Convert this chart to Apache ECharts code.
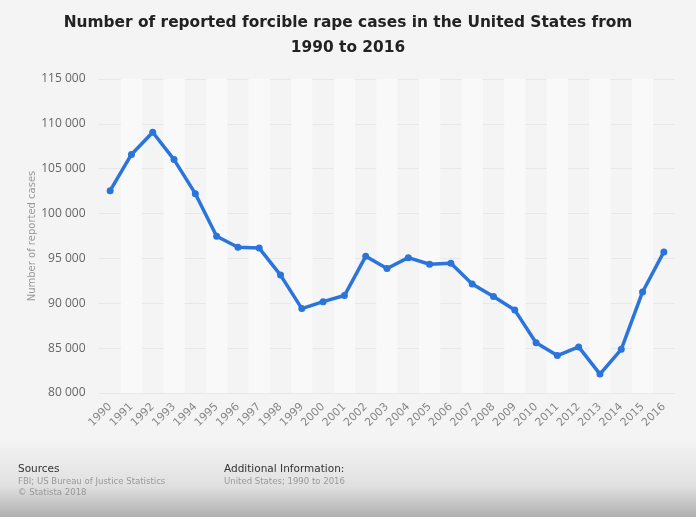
<!DOCTYPE html>
<html>
<head>
<meta charset="utf-8">
<script src="https://cdn.jsdelivr.net/npm/echarts@6/dist/echarts.min.js"></script>
<style>
  html, body { margin: 0; padding: 0; background: #f4f4f4; }
  #chart { width: 696px; height: 517px; }
</style>
</head>
<body>
<div id="chart"></div>
<script>
const years = ['1990','1991','1992','1993','1994','1995','1996','1997','1998','1999','2000','2001','2002',
               '2003','2004','2005','2006','2007','2008','2009','2010','2011','2012','2013','2014','2015','2016'];
const cases = [102555, 106593, 109062, 106014, 102216, 97470, 96252, 96153, 93144, 89411, 90178, 90863, 95235,
               93883, 95089, 94347, 94472, 92160, 90750, 89241, 85593, 84175, 85141, 82109, 84864, 91261, 95730];
const yMin = 80000, yMax = 115000, yStep = 5000;

(function(){
    let myChart = echarts.init(document.getElementById('chart'));
    let font = 'DejaVu Sans';
    let small = '"DejaVu Sans Condensed", "DejaVu Sans"';
    let options = {
        backgroundColor: '#f4f4f4',
        title: {
            text: 'Number of reported forcible rape cases in the United States from\n1990 to 2016',
            left: 'center',
            top: 5,
            textStyle: {
                fontFamily: font,
                fontSize: 15.4,
                fontWeight: 'bold',
                color: '#222',
                lineHeight: 25
            }
        },
        graphic: [
            {
                type: 'rect',
                left: 0, top: 440,
                shape: { width: 696, height: 77 },
                silent: true,
                z: -10,
                style: {
                    fill: new echarts.graphic.LinearGradient(0, 0, 0, 1, [
                        { offset: 0, color: '#f4f4f4' },
                        { offset: 0.6, color: '#e0e0e0' },
                        { offset: 1, color: '#b0b0b0' }
                    ])
                }
            },
            // y axis title
            {
                type: 'text',
                x: 32, y: 236,
                rotation: Math.PI / 2,
                style: {
                    text: 'Number of reported cases',
                    font: '10px DejaVu Sans',
                    fill: '#999',
                    align: 'center',
                    verticalAlign: 'middle'
                }
            },
            {
                type: 'group', left: 18, top: 464,
                children: [
                    { type: 'text', left: 0, top: 0, style: { text: 'Sources', font: '10.5px DejaVu Sans', fill: '#333' } },
                    { type: 'text', left: 0, top: 13, style: { text: 'FBI; US Bureau of Justice Statistics', font: '9.5px ' + small, fill: '#999' } },
                    { type: 'text', left: 0, top: 24, style: { text: '© Statista 2018', font: '9.5px ' + small, fill: '#999' } }
                ]
            },
            {
                type: 'group', left: 224, top: 464,
                children: [
                    { type: 'text', left: 0, top: 0, style: { text: 'Additional Information:', font: '10.5px DejaVu Sans', fill: '#333' } },
                    { type: 'text', left: 0, top: 13, style: { text: 'United States; 1990 to 2016', font: '9.5px ' + small, fill: '#999' } }
                ]
            }
        ],
        grid: {
            left: 99.5,
            right: 21.5,
            top: 79,
            bottom: 124
        },
        tooltip: { show: true, trigger: 'axis' },
        xAxis: {
            type: 'category',
            data: years,
            boundaryGap: true,
            axisLine: { show: false },
            axisTick: { show: false },
            axisLabel: {
                rotate: 45,
                fontFamily: font,
                fontSize: 11,
                color: '#888',
                margin: 12,
                interval: 0
            },
            splitArea: {
                show: true,
                interval: 0,
                areaStyle: { color: ['rgba(255,255,255,0)', '#f9f9f9'] }
            }
        },
        yAxis: {
            type: 'value',
            min: yMin,
            max: yMax,
            interval: yStep,
            axisLine: { show: false },
            axisTick: { show: false },
            axisLabel: {
                fontFamily: 'Open Sans',
                fontSize: 12,
                color: '#666',
                margin: 14,
                formatter: function (v) {
                    return String(v).replace(/\B(?=(\d{3})+(?!\d))/g, ' ');
                }
            },
            splitLine: {
                lineStyle: { color: '#dcdcdc', type: 'dotted', width: 1 }
            }
        },
        series: [{
            name: 'Number of reported cases',
            type: 'line',
            data: cases,
            symbol: 'circle',
            symbolSize: 7,
            lineStyle: { color: '#2a74db', width: 3.5 },
            itemStyle: { color: '#2a74db' },
            z: 5
        }]
    };
    myChart.setOption(options);
})();
</script>
</body>
</html>
